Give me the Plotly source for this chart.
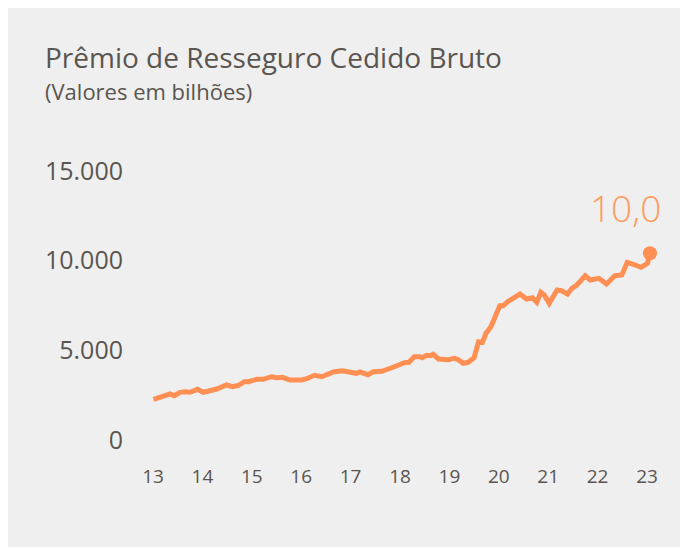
import plotly.graph_objects as go

# Data (decimal years, values)
years = [13.01, 13.14, 13.34, 13.43, 13.55, 13.65, 13.75, 13.90, 14.02, 14.15,
         14.29, 14.49, 14.61, 14.73, 14.85, 14.93, 15.10, 15.23, 15.40, 15.50,
         15.62, 15.77, 16.01, 16.11, 16.27, 16.42, 16.65, 16.83, 16.99, 17.12,
         17.19, 17.35, 17.46, 17.63, 17.82, 17.97, 18.09, 18.18, 18.29, 18.40,
         18.45, 18.54, 18.61, 18.67, 18.78, 18.98, 19.10, 19.18, 19.28, 19.38,
         19.50, 19.59, 19.67, 19.74, 19.84, 20.02, 20.09, 20.18, 20.33, 20.43,
         20.56, 20.68, 20.77, 20.85, 20.92, 21.02, 21.18, 21.27, 21.39, 21.48,
         21.58, 21.75, 21.85, 22.03, 22.18, 22.35, 22.49, 22.60, 22.76, 22.88,
         23.01, 23.06]
values = [2269, 2414, 2564, 2469, 2659, 2692, 2659, 2826, 2659, 2748,
          2843, 3066, 2971, 3049, 3250, 3250, 3383, 3383, 3528, 3473,
          3495, 3344, 3344, 3417, 3606, 3528, 3790, 3863, 3774, 3718,
          3790, 3640, 3807, 3829, 4013, 4220, 4309, 4331, 4643, 4643,
          4587, 4721, 4699, 4777, 4515, 4476, 4554, 4476, 4275, 4331,
          4587, 5479, 5446, 5947, 6315, 7486, 7486, 7709, 7988, 8138,
          7859, 7932, 7675, 8233, 8082, 7620, 8361, 8322, 8138, 8456,
          8640, 9158, 8918, 9013, 8695, 9158, 9197, 9905, 9755, 9626,
          9849, 10407]

x_ticks = [13, 14, 15, 16, 17, 18, 19, 20, 21, 22, 23]
x_ticklabels = ["13", "14", "15", "16", "17", "18", "19", "20", "21", "22", "23"]
y_ticks = [0, 5000, 10000, 15000]
y_ticklabels = ["0", "5.000", "10.000", "15.000"]
last_label = "10,0"

title_text = "Prêmio de Resseguro Cedido Bruto"
subtitle_text = "(Valores em bilhões)"

ORANGE = "#ff8f52"
TEXT = "#5a554f"
BG = "#efefef"
FONT = "Open Sans"

W, H = 688, 547
L, R, T, B = 120, 25, 127, 97
PW, PH = W - L - R, H - T - B


def px_to_paper_x(px):
    return (px - L) / PW


def py_to_paper_y(py):
    return (H - B - py) / PH


fig = go.Figure()
fig.add_trace(go.Scatter(
    x=years, y=values, mode="lines",
    line=dict(color=ORANGE, width=5, shape="linear"),
    hoverinfo="skip", showlegend=False,
))
fig.add_trace(go.Scatter(
    x=[years[-1]], y=[values[-1]], mode="markers",
    marker=dict(color=ORANGE, size=14),
    hoverinfo="skip", showlegend=False,
))

fig.add_annotation(
    x=years[-1], y=values[-1], xref="x", yref="y",
    text=last_label, showarrow=False,
    xanchor="center", yanchor="middle", xshift=-24, yshift=46,
    font=dict(family=FONT, size=37, color="#ff9a5e", weight=300),
)
fig.add_annotation(
    x=px_to_paper_x(35), y=py_to_paper_y(49), xref="paper", yref="paper",
    text=title_text, showarrow=False, xanchor="left", yanchor="middle",
    font=dict(family=FONT, size=28, color=TEXT),
)
fig.add_annotation(
    x=px_to_paper_x(35), y=py_to_paper_y(83), xref="paper", yref="paper",
    text=subtitle_text, showarrow=False, xanchor="left", yanchor="middle",
    font=dict(family=FONT, size=22, color=TEXT),
)

fig.update_layout(
    width=W, height=H,
    margin=dict(l=L, r=R, t=T, b=B, pad=0),
    paper_bgcolor=BG, plot_bgcolor=BG,
    showlegend=False,
    font=dict(family=FONT, color=TEXT),
    xaxis=dict(
        range=[12.494, 23.486], tickvals=x_ticks, ticktext=x_ticklabels,
        showgrid=False, zeroline=False, showline=False, ticks="",
        tickfont=dict(family=FONT, size=19, color=TEXT),
        ticklabelstandoff=5, fixedrange=True,
    ),
    yaxis=dict(
        range=[-1003, 17001], tickvals=y_ticks, ticktext=y_ticklabels,
        showgrid=False, zeroline=False, showline=False, ticks="",
        tickfont=dict(family=FONT, size=25, color=TEXT),
        ticklabelstandoff=4, fixedrange=True,
    ),
)

fig.write_html("out.html", config={"displayModeBar": False})
